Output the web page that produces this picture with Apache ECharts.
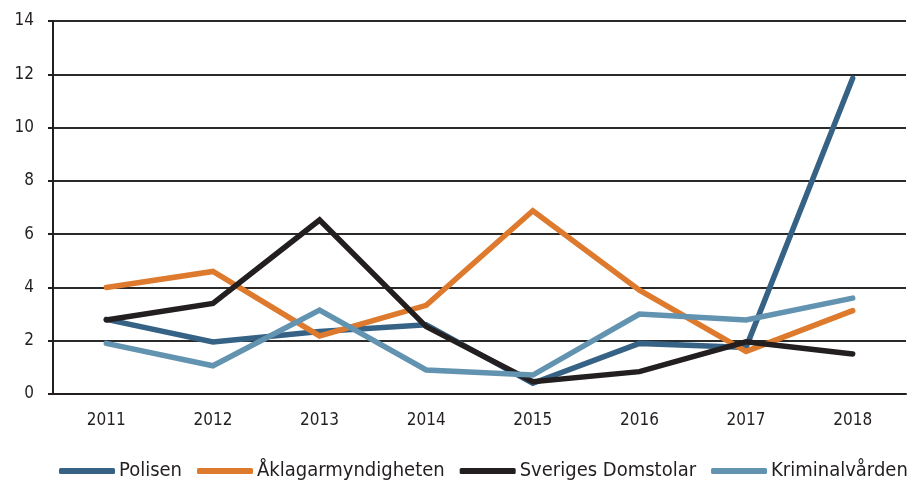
<!DOCTYPE html>
<html><head><meta charset="utf-8">
<script src="https://cdn.jsdelivr.net/npm/echarts@6/dist/echarts.min.js"></script>
<style>html,body{margin:0;padding:0;background:#fff}#c{width:918px;height:483px}</style>
</head><body><div id="c"></div>
<script>
const years = ['2011','2012','2013','2014','2015','2016','2017','2018'];
const polisen = [2.8, 1.95, 2.35, 2.6, 0.4, 1.9, 1.75, 11.85];
const aklagar = [4.0, 4.6, 2.18, 3.33, 6.88, 3.9, 1.6, 3.13];
const domstolar = [2.78, 3.4, 6.53, 2.53, 0.46, 0.84, 1.96, 1.5];
const kriminal = [1.9, 1.06, 3.15, 0.9, 0.71, 3.0, 2.78, 3.6];
const names = ['Polisen','Åklagarmyndigheten','Sveriges Domstolar','Kriminalvården'];
const colors = ['#366285','#DD7A2D','#231F20','#6293B0'];
const FONT = '"DejaVu Sans Condensed","Open Sans",sans-serif';
const chart = echarts.init(document.getElementById('c'));
const mk = (n, d, c) => ({
  name: n, type: 'line', data: d, symbol: 'none',
  lineStyle: {width: 5.5, color: c, cap: 'round', join: 'miter'},
  itemStyle: {color: c}
});
chart.setOption({
  animation: false,
  grid: {left: 53, right: 12, top: 21, bottom: 89, containLabel: false},
  legend: {
    left: 59, top: 461, width: 1200, itemGap: 15, itemWidth: 56, itemHeight: 6,
    padding: 0,
    icon: 'roundRect',
    textStyle: {fontFamily: FONT, fontSize: 20, color: '#231F20', padding: [0,0,0,-1]},
    data: names
  },
  xAxis: {
    type: 'category', data: years, boundaryGap: true,
    axisLine: {lineStyle: {color: '#231F20', width: 2}},
    axisTick: {show: false},
    axisLabel: {fontFamily: FONT, fontSize: 17, color: '#231F20', margin: 18}
  },
  yAxis: {
    type: 'value', min: 0, max: 14, interval: 2,
    axisLine: {show: true, lineStyle: {color: '#231F20', width: 2}},
    axisTick: {show: true, length: 5, lineStyle: {color: '#231F20', width: 2}},
    splitLine: {lineStyle: {color: '#2a2a2a', width: 2}},
    axisLabel: {fontFamily: FONT, fontSize: 17, color: '#231F20', margin: 19}
  },
  series: [
    mk(names[0], polisen, colors[0]),
    mk(names[1], aklagar, colors[1]),
    mk(names[2], domstolar, colors[2]),
    mk(names[3], kriminal, colors[3])
  ]
});
</script></body></html>
